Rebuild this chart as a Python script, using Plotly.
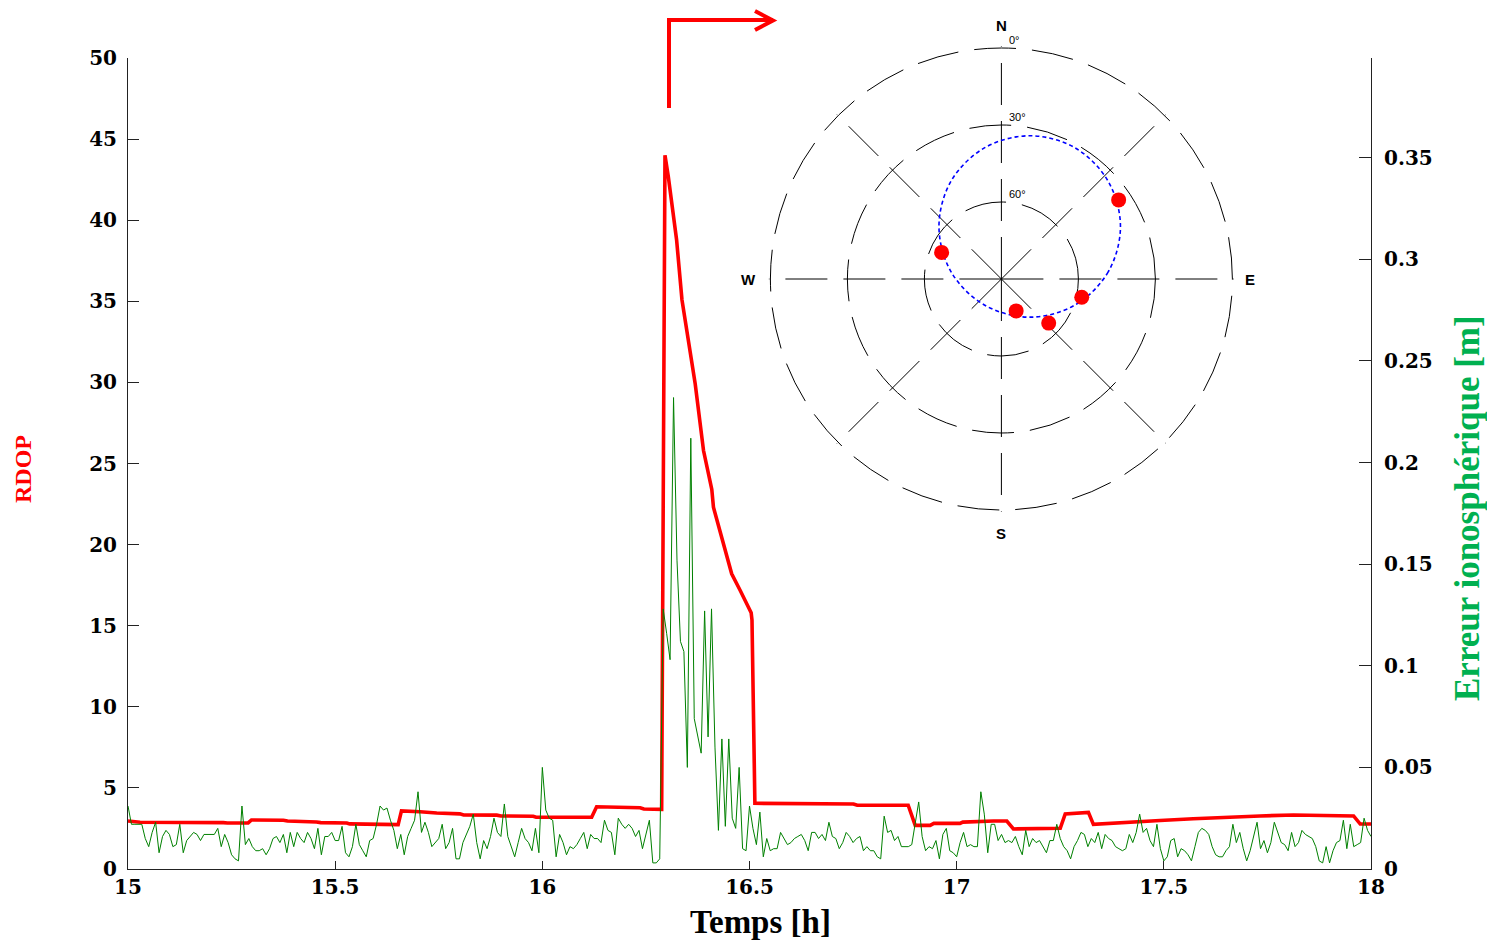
import numpy as np
import plotly.graph_objects as go

# ---------------------------------------------------------------------------
# RDOP time series (hours, value)
# ---------------------------------------------------------------------------
rdop_t = [15.000, 15.029, 15.230, 15.240, 15.290, 15.298, 15.375, 15.385, 15.455,
          15.465, 15.528, 15.535, 15.652, 15.660, 15.705, 15.745, 15.801, 15.810,
          15.890, 15.900, 15.978, 15.985, 16.119, 16.131, 16.236, 16.245, 16.288,
          16.296, 16.304, 16.324, 16.337, 16.352, 16.369, 16.389, 16.409, 16.413,
          16.433, 16.449, 16.457, 16.477, 16.493, 16.504, 16.506, 16.513, 16.751,
          16.760, 16.883, 16.900, 16.936, 16.945, 17.008, 17.015, 17.089, 17.121,
          17.137, 17.250, 17.262, 17.318, 17.330, 17.411, 17.491, 17.571, 17.652,
          17.732, 17.813, 17.958, 17.974, 18.000]
rdop_v = [2.96, 2.88, 2.86, 2.84, 2.84, 3.02, 3.01, 2.96, 2.90,
          2.86, 2.84, 2.78, 2.74, 3.58, 3.53, 3.45, 3.40, 3.33,
          3.32, 3.27, 3.25, 3.19, 3.19, 3.84, 3.78, 3.70, 3.68,
          44.0, 42.7, 38.8, 35.1, 32.6, 29.9, 25.8, 23.4, 22.3,
          20.5, 19.05, 18.2, 17.2, 16.3, 15.8, 15.35, 4.05, 4.01,
          3.93, 3.93, 2.69, 2.69, 2.81, 2.81, 2.89, 2.96, 2.96,
          2.47, 2.51, 3.39, 3.49, 2.75, 2.89, 2.99, 3.10, 3.20,
          3.27, 3.33, 3.27, 2.77, 2.77]

# ---------------------------------------------------------------------------
# Ionospheric error [m], one sample every 30 s from 15:00 to 18:00
# ---------------------------------------------------------------------------
T0_H = 15.0
STEP_H = 30.0 / 3600.0
iono_err = [
    0.031, 0.022, 0.022, 0.022, 0.022, 0.015, 0.011, 0.018, 0.023, 0.008,
    0.016, 0.019, 0.017, 0.011, 0.012, 0.022, 0.008, 0.014, 0.016, 0.018,
    0.017, 0.014, 0.017, 0.017, 0.017, 0.017, 0.020, 0.011, 0.017, 0.013,
    0.007, 0.005, 0.004, 0.031, 0.012, 0.015, 0.011, 0.009, 0.009, 0.010,
    0.007, 0.010, 0.015, 0.016, 0.013, 0.017, 0.008, 0.018, 0.011, 0.018,
    0.015, 0.013, 0.018, 0.015, 0.010, 0.020, 0.007, 0.016, 0.016, 0.018,
    0.014, 0.014, 0.021, 0.008, 0.006, 0.011, 0.022, 0.012, 0.009, 0.006,
    0.014, 0.015, 0.022, 0.031, 0.029, 0.030, 0.024, 0.019, 0.010, 0.017,
    0.007, 0.016, 0.020, 0.024, 0.038, 0.018, 0.023, 0.018, 0.011, 0.013,
    0.015, 0.022, 0.010, 0.013, 0.020, 0.005, 0.005, 0.013, 0.017, 0.021,
    0.027, 0.013, 0.005, 0.014, 0.010, 0.016, 0.025, 0.018, 0.016, 0.032,
    0.016, 0.011, 0.006, 0.013, 0.020, 0.015, 0.013, 0.009, 0.020, 0.008,
    0.050, 0.029, 0.025, 0.024, 0.006, 0.017, 0.013, 0.007, 0.011, 0.010,
    0.012, 0.015, 0.018, 0.010, 0.017, 0.015, 0.015, 0.013, 0.024, 0.019,
    0.018, 0.007, 0.025, 0.022, 0.020, 0.022, 0.020, 0.016, 0.019, 0.010,
    0.017, 0.024, 0.003, 0.003, 0.005, 0.128, 0.116, 0.103, 0.232, 0.152,
    0.112, 0.107, 0.050, 0.212, 0.074, 0.066, 0.057, 0.127, 0.065, 0.128,
    0.060, 0.019, 0.064, 0.021, 0.064, 0.025, 0.020, 0.050, 0.010, 0.009,
    0.031, 0.020, 0.012, 0.028, 0.006, 0.015, 0.009, 0.010, 0.010, 0.018,
    0.015, 0.012, 0.013, 0.015, 0.016, 0.017, 0.014, 0.009, 0.018, 0.018,
    0.015, 0.017, 0.014, 0.023, 0.016, 0.015, 0.010, 0.013, 0.018, 0.016,
    0.013, 0.015, 0.016, 0.009, 0.011, 0.009, 0.009, 0.006, 0.005, 0.026,
    0.018, 0.019, 0.014, 0.016, 0.011, 0.011, 0.011, 0.012, 0.022, 0.033,
    0.016, 0.009, 0.011, 0.010, 0.014, 0.005, 0.017, 0.020, 0.009, 0.008,
    0.006, 0.013, 0.018, 0.011, 0.012, 0.011, 0.011, 0.038, 0.027, 0.008,
    0.022, 0.022, 0.014, 0.017, 0.013, 0.014, 0.013, 0.016, 0.011, 0.007,
    0.019, 0.011, 0.015, 0.013, 0.014, 0.011, 0.008, 0.014, 0.014, 0.022,
    0.015, 0.011, 0.009, 0.005, 0.011, 0.014, 0.018, 0.017, 0.011, 0.015,
    0.013, 0.018, 0.010, 0.017, 0.015, 0.014, 0.011, 0.010, 0.009, 0.010,
    0.017, 0.013, 0.018, 0.027, 0.018, 0.020, 0.014, 0.011, 0.022, 0.010,
    0.004, 0.006, 0.014, 0.015, 0.006, 0.010, 0.009, 0.007, 0.004, 0.011,
    0.018, 0.020, 0.019, 0.017, 0.011, 0.007, 0.006, 0.006, 0.009, 0.011,
    0.022, 0.013, 0.018, 0.010, 0.004, 0.009, 0.016, 0.023, 0.010, 0.014,
    0.008, 0.013, 0.023, 0.018, 0.013, 0.012, 0.009, 0.018, 0.011, 0.013,
    0.019, 0.017, 0.016, 0.015, 0.011, 0.004, 0.003, 0.011, 0.003, 0.009,
    0.013, 0.014, 0.024, 0.010, 0.022, 0.011, 0.012, 0.013, 0.025, 0.019,
    0.016,
]
iono_t = T0_H + np.arange(len(iono_err)) * STEP_H

# ---------------------------------------------------------------------------
# Sky plot: satellites (azimuth deg, elevation deg) and track
# ---------------------------------------------------------------------------
sat_az = [56.0, 294.0, 155.2, 133.0, 102.8]
sat_el = [34.9, 64.5, 76.3, 64.8, 57.9]
track_az = [66.2, 86.2, 109.5, 143.5, 213.2, 278.1, 310.1, 332.8, 352.6,
            11.2, 29.3, 47.5, 66.2]
track_el = [39.3, 48.3, 59.6, 71.5, 77.9, 70.2, 58.2, 47.1, 38.5,
            33.1, 31.4, 33.6, 39.3]
ring_el = [0, 30, 60]
ring_labels = ["0°", "30°", "60°"]
spoke_az = [0, 45, 90, 135, 180, 225, 270, 315]

# Axis ticks
x_ticks = [15, 15.5, 16, 16.5, 17, 17.5, 18]
y_ticks = [0, 5, 10, 15, 20, 25, 30, 35, 40, 45, 50]
y2_ticks = [0, 0.05, 0.1, 0.15, 0.2, 0.25, 0.3, 0.35]

# ---------------------------------------------------------------------------
W, H = 1487, 942


def fx(px):
    return px / W


def fy(py):
    return 1 - py / H


TICK_FONT = dict(family="DejaVu Serif", size=20, color="black", weight=700)
AXIS_LINE = "#222222"

fig = go.Figure()

fig.add_trace(go.Scatter(
    x=rdop_t, y=rdop_v, mode="lines", name="RDOP",
    line=dict(color="#FF0000", width=3.6), yaxis="y", xaxis="x",
    showlegend=False,
))
fig.add_trace(go.Scatter(
    x=iono_t, y=iono_err, mode="lines", name="Erreur ionosphérique",
    line=dict(color="#008000", width=1), yaxis="y2", xaxis="x",
    showlegend=False,
))

# sky plot
fig.add_trace(go.Scatterpolar(
    r=[90 - e for e in track_el], theta=track_az, mode="lines",
    line=dict(color="#0000FF", width=1.6, dash="4px,3px", shape="spline"),
    subplot="polar", showlegend=False,
))
fig.add_trace(go.Scatterpolar(
    r=[90 - e for e in sat_el], theta=sat_az, mode="markers",
    marker=dict(color="#FF0000", size=15),
    subplot="polar", showlegend=False,
))

DASH = "42px,16px"
SKY_R_MAX = 90.6   # a hair beyond the horizon so the 0° ring is drawn
sky_half = 231 * SKY_R_MAX / 90
sky_cx, sky_cy = 1001.4, 279

fig.update_layout(
    width=W, height=H, autosize=False,
    margin=dict(l=0, r=0, t=0, b=0, pad=0, autoexpand=False),
    paper_bgcolor="white", plot_bgcolor="white",
    xaxis=dict(
        domain=[fx(128), fx(1371)], range=[15, 18], automargin=False,
        tickvals=x_ticks, ticks="inside", ticklen=8, tickcolor=AXIS_LINE,
        showline=True, linecolor=AXIS_LINE, linewidth=1, mirror=False,
        showgrid=False, zeroline=False, tickfont=TICK_FONT,
        ticklabelstandoff=0,
    ),
    yaxis=dict(
        domain=[fy(869), fy(58)], range=[0, 50], automargin=False,
        tickvals=y_ticks, ticks="inside", ticklen=11, tickcolor=AXIS_LINE,
        showline=True, linecolor=AXIS_LINE, linewidth=1,
        showgrid=False, zeroline=False, tickfont=TICK_FONT,
        ticklabelstandoff=6,
    ),
    yaxis2=dict(
        domain=[fy(869), fy(58)], range=[0, 0.3991], overlaying="y",
        side="right", anchor="x", automargin=False,
        tickvals=y2_ticks, ticks="inside", ticklen=12, tickcolor=AXIS_LINE,
        showline=True, linecolor=AXIS_LINE, linewidth=1,
        showgrid=False, zeroline=False, tickfont=TICK_FONT,
        ticklabelstandoff=8,
    ),
    polar=dict(
        domain=dict(x=[fx(sky_cx - sky_half), fx(sky_cx + sky_half)],
                    y=[fy(sky_cy + sky_half), fy(sky_cy - sky_half)]),
        bgcolor="rgba(0,0,0,0)",
        angularaxis=dict(
            rotation=90, direction="clockwise", tickvals=spoke_az,
            showticklabels=False, ticks="", showline=False,
            showgrid=True, gridcolor="black", gridwidth=1.3, griddash=DASH,
        ),
        radialaxis=dict(
            range=[0, SKY_R_MAX], tickvals=[90 - e for e in ring_el],
            showticklabels=False, ticks="", showline=False,
            showgrid=True, gridcolor="black", gridwidth=1.3, griddash=DASH,
        ),
    ),
)

annotations = [
    dict(text="Temps [h]", x=fx(760), y=fy(922), xref="paper", yref="paper",
         showarrow=False, xanchor="center", yanchor="middle",
         font=dict(family="Liberation Serif", size=33, color="black", weight=700)),
    dict(text="RDOP", x=fx(23), y=fy(469), xref="paper", yref="paper",
         showarrow=False, textangle=-90, xanchor="center", yanchor="middle",
         font=dict(family="Liberation Serif", size=24, color="#FF0000", weight=700)),
    dict(text="Erreur ionosphérique [m]", x=fx(1467), y=fy(508),
         xref="paper", yref="paper", showarrow=False, textangle=-90,
         xanchor="center", yanchor="middle",
         font=dict(family="Liberation Serif", size=35, color="#00B050", weight=700)),
]
compass = [("N", 1001, 26), ("S", 1001, 533), ("W", 749, 280), ("E", 1250, 280)]
for txt, cx, cy in compass:
    annotations.append(dict(
        text=txt, x=fx(cx), y=fy(cy), xref="paper", yref="paper",
        showarrow=False, xanchor="center", yanchor="middle",
        font=dict(family="Liberation Sans", size=15, color="#000000", weight=700)))
for lab, cy in zip(ring_labels, [40, 117, 194]):
    annotations.append(dict(
        text=lab, x=fx(1007), y=fy(cy), xref="paper", yref="paper",
        showarrow=False, xanchor="left", yanchor="middle",
        font=dict(family="Liberation Sans", size=11, color="#000000")))
fig.update_layout(annotations=annotations)

# elbow arrow pointing from the RDOP peak towards the sky plot
arrow_path = "M {:.5f} {:.5f} L {:.5f} {:.5f} L {:.5f} {:.5f}".format(
    fx(669), fy(108), fx(669), fy(20), fx(773), fy(20))
head_path = "M {:.5f} {:.5f} L {:.5f} {:.5f} L {:.5f} {:.5f}".format(
    fx(755), fy(11), fx(773), fy(20.5), fx(755), fy(30))
fig.add_shape(type="path", path=arrow_path, xref="paper", yref="paper",
              line=dict(color="#FF0000", width=4))
fig.add_shape(type="path", path=head_path, xref="paper", yref="paper",
              line=dict(color="#FF0000", width=4))

fig.write_html("out.html")
